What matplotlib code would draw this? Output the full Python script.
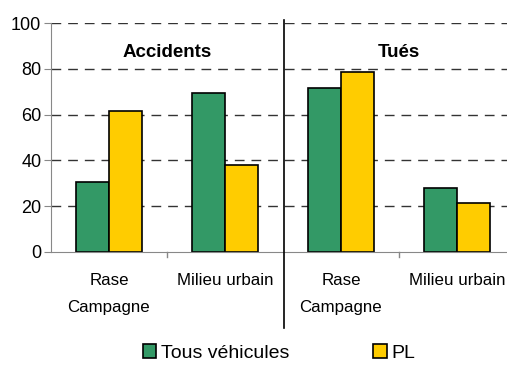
import matplotlib
matplotlib.use("Agg")
import matplotlib.pyplot as plt
from matplotlib.lines import Line2D
from matplotlib.patches import Rectangle

plt.rcParams['font.family'] = ['Liberation Sans', 'DejaVu Sans']

categories = ["Rase\nCampagne", "Milieu urbain", "Rase\nCampagne", "Milieu urbain"]
groups = ["Accidents", "Tués"]
tous_vehicules = [30.5, 69.5, 71.8, 28.1]
pl = [61.7, 38.2, 78.6, 21.5]
series_names = ["Tous véhicules", "PL"]
colors = ["#339966", "#FFCC00"]
yticks = [0, 20, 40, 60, 80, 100]

W, H = 507, 367
fig = plt.figure(figsize=(W / 100, H / 100), dpi=100)
ax_left, ax_right, ax_bottom, ax_top = 51, 507, 252, 23
ax = fig.add_axes([ax_left / W, 1 - ax_bottom / H,
                   (ax_right - ax_left) / W, (ax_bottom - ax_top) / H])

cat_px = 116.0
xmax = -0.5 + (ax_right - ax_left) / cat_px
ax.set_xlim(-0.5, xmax)
ax.set_ylim(0, 100)

bw = 33 / cat_px
xs = list(range(len(categories)))
ax.bar([x - bw / 2 for x in xs], tous_vehicules, width=bw, color=colors[0],
       edgecolor="black", linewidth=1.2, zorder=3)
ax.bar([x + bw / 2 for x in xs], pl, width=bw, color=colors[1],
       edgecolor="black", linewidth=1.2, zorder=3)

# grid
for y in yticks[1:]:
    ax.axhline(y, color="#333333", linewidth=1.0, dashes=(7, 5), zorder=1)

for s in ["top", "right"]:
    ax.spines[s].set_visible(False)
ax.spines["left"].set_color("#888888")
ax.spines["bottom"].set_color("#888888")
ax.spines["left"].set_zorder(4)
ax.spines["bottom"].set_zorder(4)

ax.set_yticks(yticks)
ax.set_yticklabels([str(v) for v in yticks], fontsize=13)
ax.tick_params(axis="y", length=5, color="#888888", pad=2)

ax.set_xticks(xs)
ax.set_xticklabels(categories, fontsize=12.2, linespacing=2.0, va="top")
ax.tick_params(axis="x", length=0, pad=15)
for b in [0.5, 2.5]:
    ax.plot([b, b], [0, -2.2], color="#888888", linewidth=1, clip_on=False)

# group titles
for i, g in enumerate(groups):
    ax.text(0.5 + 2 * i, 87, g, ha="center", va="center", fontsize=13.5,
            fontweight="bold")

# divider between groups
fig.add_artist(Line2D([283.5 / W, 283.5 / W], [1 - 20 / H, 1 - 328 / H],
                      color="black", linewidth=1.2))

handles = [Rectangle((0, 0), 1, 1, facecolor=c, edgecolor="black", linewidth=1.2)
           for c in colors]
fig.legend(handles, series_names, loc="center", bbox_to_anchor=(279 / W, 1 - 353 / H),
           ncol=2, frameon=False, fontsize=14, handlelength=0.7, handleheight=0.7,
           handletextpad=0.25, columnspacing=4.3)

fig.savefig("out.png", dpi=100)
